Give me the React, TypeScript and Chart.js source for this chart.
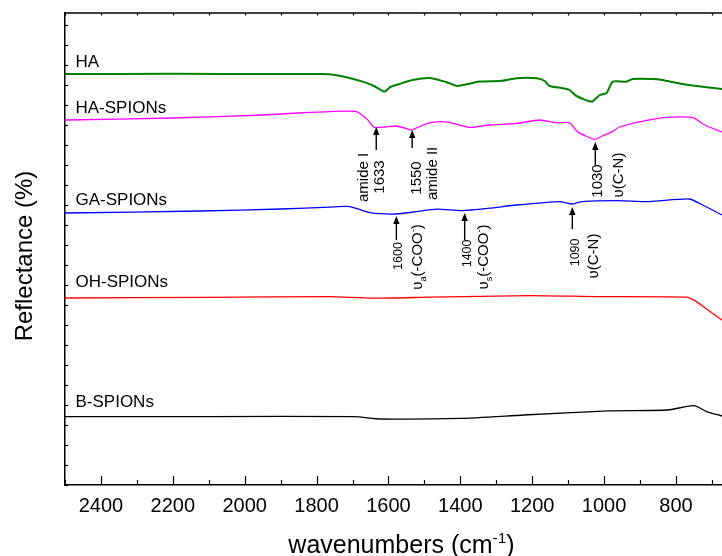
import React, { useEffect, useRef } from 'react';
import { Chart, registerables } from 'chart.js';

Chart.register(...registerables);

const FONT = '"Liberation Sans", Arial, Helvetica, sans-serif';

// ---- data ----
const SERIES_NAMES = ['HA', 'HA-SPIONs', 'GA-SPIONs', 'OH-SPIONs', 'B-SPIONs'];
const SERIES_COLORS = ['#008000', '#ff00ff', '#0000ff', '#ff0000', '#000000'];
const SERIES_WIDTHS = [2, 1.3, 1.3, 1.3, 1.3];

const HA_WN = [2500, 2200, 1900, 1800, 1764, 1720, 1672, 1640, 1611, 1595, 1570, 1533, 1486, 1440, 1408, 1347, 1283, 1244, 1188, 1165, 1152, 1116, 1096, 1077, 1035, 1012, 993, 976, 938, 921, 865, 838, 782, 720, 672];
const HA_R = [20.55, 20.56, 20.55, 20.55, 20.54, 20.4, 20.17, 19.95, 19.67, 19.9, 20.05, 20.25, 20.35, 20.15, 19.95, 20.17, 20.21, 20.34, 20.34, 20.2, 19.95, 19.84, 19.75, 19.45, 19.17, 19.5, 19.6, 20.17, 20.17, 20.3, 20.3, 20.25, 20.05, 19.9, 19.8];

const HASP_WN = [2500, 2200, 1950, 1850, 1764, 1689, 1660, 1639, 1610, 1578, 1555, 1536, 1510, 1486, 1439, 1375, 1319, 1244, 1180, 1132, 1096, 1074, 1027, 1005, 977, 957, 901, 826, 754, 720, 672];
const HASP_R = [18.25, 18.35, 18.5, 18.6, 18.67, 18.67, 18.3, 17.88, 17.9, 17.95, 17.85, 17.75, 17.95, 18.11, 18.16, 17.88, 18.0, 18.08, 18.25, 18.11, 18.11, 17.67, 17.28, 17.45, 17.67, 17.9, 18.16, 18.38, 18.38, 18.0, 17.65];

const GASP_WN = [2500, 2125, 1900, 1764, 1708, 1652, 1578, 1522, 1466, 1394, 1319, 1244, 1124, 1088, 1061, 966, 874, 763, 726, 672];
const GASP_R = [13.6, 13.7, 13.8, 13.89, 13.92, 13.62, 13.55, 13.67, 13.79, 13.72, 13.84, 14.0, 14.17, 14.05, 14.17, 14.22, 14.17, 14.3, 14.0, 13.5];

const OHSP_WN = [2500, 2100, 1764, 1644, 1486, 1207, 1021, 771, 743, 715, 672];
const OHSP_R = [9.35, 9.38, 9.42, 9.34, 9.39, 9.47, 9.42, 9.39, 9.17, 8.8, 8.25];

const BSP_WN = [2500, 2100, 1694, 1622, 1399, 1224, 987, 823, 749, 715, 672];
const BSP_R = [3.42, 3.42, 3.42, 3.3, 3.33, 3.5, 3.71, 3.75, 3.97, 3.67, 3.45];

const SERIES_WN = [HA_WN, HASP_WN, GASP_WN, OHSP_WN, BSP_WN];
const SERIES_R = [HA_R, HASP_R, GASP_R, OHSP_R, BSP_R];

const X_TICK_LABELS = [2400, 2200, 2000, 1800, 1600, 1400, 1200, 1000, 800];
const X_MIN = 672;
const X_MAX = 2500;
const Y_MIN = 0;
const Y_MAX = 23.6;

// label baselines, in y units
const LABEL_Y = [20.9, 18.6, 14.0, 9.9, 3.9];

type Seg = { t: string; sub?: boolean; sup?: boolean };
type Line = { wn: number; y: number; size: number; segs: Seg[] };
type Ann = { wn: number; tip: number; tail: number; lines: Line[] };

const ANNOTATIONS: Ann[] = [
  { wn: 1634, tip: 17.9, tail: 16.75, lines: [
    { wn: 1672, y: 15.38, size: 15, segs: [{ t: 'amide I' }] },
    { wn: 1627, y: 15.4, size: 15, segs: [{ t: '1633' }] },
  ] },
  { wn: 1534, tip: 17.75, tail: 16.85, lines: [
    { wn: 1524, y: 15.35, size: 15, segs: [{ t: '1550' }] },
    { wn: 1480, y: 15.58, size: 15, segs: [{ t: 'amide II' }] },
  ] },
  { wn: 1024.5, tip: 17.15, tail: 16.0, lines: [
    { wn: 1021, y: 15.2, size: 15, segs: [{ t: '1030' }] },
    { wn: 962, y: 15.5, size: 15, segs: [{ t: 'υ(C-N)' }] },
  ] },
  { wn: 1578, tip: 13.45, tail: 12.25, lines: [
    { wn: 1575, y: 11.45, size: 12.5, segs: [{ t: '1600' }] },
    { wn: 1522, y: 11.4, size: 15, segs: [{ t: 'υ' }, { t: 'a', sub: true }, { t: '(-COO' }, { t: '-', sup: true }, { t: ')' }] },
  ] },
  { wn: 1388, tip: 13.6, tail: 12.25, lines: [
    { wn: 1383, y: 11.58, size: 12.5, segs: [{ t: '1400' }] },
    { wn: 1338, y: 11.4, size: 15, segs: [{ t: 'υ' }, { t: 's', sub: true }, { t: '(-COO' }, { t: '-', sup: true }, { t: ')' }] },
  ] },
  { wn: 1088.5, tip: 13.9, tail: 12.8, lines: [
    { wn: 1082, y: 11.63, size: 12.5, segs: [{ t: '1090' }] },
    { wn: 1032, y: 11.45, size: 15, segs: [{ t: 'υ(C-N)' }] },
  ] },
];

function drawRich(ctx: CanvasRenderingContext2D, x: number, y: number, segs: Seg[], size: number, angle: number, align: 'center' | 'left') {
  ctx.save();
  ctx.translate(x, y);
  ctx.rotate(angle);
  const small = size * 0.62;
  let total = 0;
  const widths: number[] = [];
  for (const s of segs) {
    ctx.font = `${s.sub || s.sup ? small : size}px ${FONT}`;
    const w = ctx.measureText(s.t).width;
    widths.push(w);
    total += w;
  }
  let cx = align === 'center' ? -total / 2 : 0;
  ctx.textAlign = 'left';
  ctx.textBaseline = 'alphabetic';
  ctx.fillStyle = '#000';
  segs.forEach((s, i) => {
    ctx.font = `${s.sub || s.sup ? small : size}px ${FONT}`;
    const dy = s.sub ? size * 0.25 : s.sup ? -size * 0.42 : 0;
    ctx.fillText(s.t, cx, dy);
    cx += widths[i];
  });
  ctx.restore();
}

const decorPlugin = {
  id: 'decor',
  afterDraw(chart: any) {
    const { ctx, chartArea: a, scales } = chart;
    const xs = scales.x;
    const ys = scales.y;
    ctx.save();
    ctx.strokeStyle = '#000';
    ctx.lineWidth = 1.3;
    // top frame
    ctx.beginPath();
    ctx.moveTo(a.left, a.top);
    ctx.lineTo(a.right + 2, a.top);
    ctx.stroke();
    // x ticks (inward)
    ctx.lineWidth = 1.2;
    for (let v = X_MAX; v >= 600; v -= 100) {
      const px = Math.round(xs.getPixelForValue(v)) + 0.5;
      if (px < a.left - 1 || px > a.right + 1) continue;
      const len = v % 200 === 0 ? 9 : 5;
      ctx.beginPath();
      ctx.moveTo(px, a.bottom);
      ctx.lineTo(px, a.bottom - len);
      ctx.moveTo(px, a.top);
      ctx.lineTo(px, a.top + 2.5);
      ctx.stroke();
    }
    // y ticks (inward)
    for (let v = Y_MIN; v <= Math.floor(Y_MAX); v++) {
      const py = Math.round(ys.getPixelForValue(v)) + 0.5;
      ctx.beginPath();
      ctx.moveTo(a.left, py);
      ctx.lineTo(a.left + 3, py);
      ctx.stroke();
    }
    // series labels
    ctx.fillStyle = '#000';
    ctx.font = `17px ${FONT}`;
    ctx.textAlign = 'left';
    ctx.textBaseline = 'alphabetic';
    SERIES_NAMES.forEach((n, i) => {
      ctx.fillText(n, a.left + 10.5, ys.getPixelForValue(LABEL_Y[i]));
    });
    // annotations
    ctx.fillStyle = '#000';
    ctx.lineWidth = 1.4;
    for (const an of ANNOTATIONS) {
      const px = xs.getPixelForValue(an.wn);
      const tip = ys.getPixelForValue(an.tip);
      const tail = ys.getPixelForValue(an.tail);
      ctx.beginPath();
      ctx.moveTo(px, tail);
      ctx.lineTo(px, tip + 6);
      ctx.stroke();
      ctx.beginPath();
      ctx.moveTo(px, tip);
      ctx.lineTo(px - 3.2, tip + 8);
      ctx.lineTo(px + 3.2, tip + 8);
      ctx.closePath();
      ctx.fill();
      for (const ln of an.lines) {
        const lx = xs.getPixelForValue(ln.wn) + ln.size * 0.36;
        const ly = ys.getPixelForValue(ln.y);
        drawRich(ctx, lx, ly, ln.segs, ln.size, -Math.PI / 2, 'center');
      }
    }
    // axis titles
    drawRich(ctx, 32, 256, [{ t: 'Reflectance (%)' }], 24, -Math.PI / 2, 'center');
    drawRich(ctx, 401.5, 553, [{ t: 'wavenumbers (cm' }, { t: '-1', sup: true }, { t: ')' }], 25, 0, 'center');
    ctx.restore();
  },
};

export default function App() {
  const ref = useRef<HTMLCanvasElement | null>(null);
  useEffect(() => {
    document.body.style.margin = '0';
    document.body.style.overflow = 'hidden';
    const canvas = ref.current!;
    const chart = new Chart(canvas, {
      type: 'line',
      data: {
        datasets: SERIES_NAMES.map((name, i) => ({
          label: name,
          data: SERIES_WN[i].map((w, j) => ({ x: w, y: SERIES_R[i][j] })),
          borderColor: SERIES_COLORS[i],
          borderWidth: SERIES_WIDTHS[i],
          pointRadius: 0,
          tension: 0.2,
          fill: false,
        })),
      },
      options: {
        animation: false,
        responsive: false,
        devicePixelRatio: 1,
        layout: { padding: { top: 13, left: 0, right: 0, bottom: 0 } },
        plugins: { legend: { display: false }, tooltip: { enabled: false } },
        scales: {
          x: {
            type: 'linear',
            reverse: true,
            min: X_MIN,
            max: X_MAX,
            afterFit: (s: any) => { s.height = 71; s.paddingLeft = 0; s.paddingRight = 0; },
            grid: { drawOnChartArea: false, drawTicks: false },
            border: { display: true, color: '#000', width: 1.5 },
            ticks: {
              stepSize: 100,
              autoSkip: false,
              maxRotation: 0,
              padding: 9,
              color: '#000',
              font: { family: FONT, size: 20 },
              callback: (v: any) => (X_TICK_LABELS.includes(Number(v)) ? String(v) : ''),
            },
          },
          y: {
            type: 'linear',
            min: Y_MIN,
            max: Y_MAX,
            afterFit: (s: any) => { s.width = 65; s.paddingTop = 0; s.paddingBottom = 0; },
            grid: { drawOnChartArea: false, drawTicks: false },
            border: { display: true, color: '#000', width: 1.5 },
            ticks: { display: false },
          },
        },
      },
      plugins: [decorPlugin],
    });
    return () => chart.destroy();
  }, []);
  return (
    <div style={{ width: 722, height: 556, overflow: 'hidden' }}>
      <canvas ref={ref} width={722} height={556} style={{ display: 'block', width: 722, height: 556 }} />
    </div>
  );
}
